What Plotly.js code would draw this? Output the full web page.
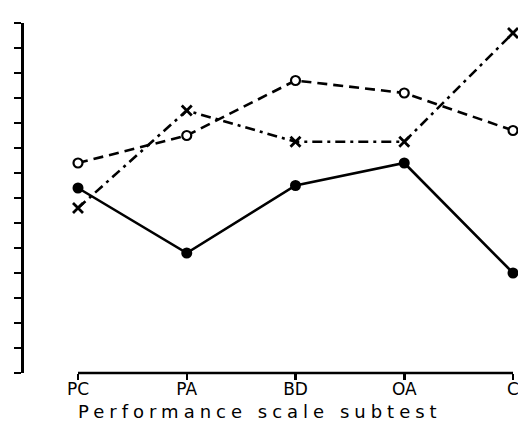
<!DOCTYPE html>
<html>
<head>
<meta charset="utf-8">
<script src="https://cdn.plot.ly/plotly-3.0.1.min.js"></script>
<style>
html,body{margin:0;padding:0;background:#fff;}
#chart{width:518px;height:429px;}
.annotation-text{letter-spacing:5px;}
</style>
</head>
<body>
<div id="chart"></div>
<script>
const categories = ["PC", "PA", "BD", "OA", "C"];
const solidSeries = [7.4, 4.8, 7.5, 8.4, 4.0];
const dashedSeries = [8.4, 9.5, 11.7, 11.2, 9.7];
const dashDotSeries = [6.6, 10.5, 9.25, 9.25, 13.6];
const xTitle = "Performance scale subtest";

const traces = [
  {
    x: categories, y: dashedSeries, type: "scatter", mode: "lines+markers",
    line: {color: "#000", width: 2.6, dash: "10px,6px"},
    marker: {symbol: "circle", size: 9, color: "#fff", line: {color: "#000", width: 2.2}},
    cliponaxis: false, showlegend: false
  },
  {
    x: categories, y: dashDotSeries, type: "scatter", mode: "lines+markers",
    line: {color: "#000", width: 2.6, dash: "10px,5px,3px,5px"},
    marker: {symbol: "x-thin-open", size: 10, color: "#000", line: {color: "#000", width: 2.8}},
    cliponaxis: false, showlegend: false
  },
  {
    x: categories, y: solidSeries, type: "scatter", mode: "lines+markers",
    line: {color: "#000", width: 2.6},
    marker: {symbol: "circle", size: 11, color: "#000"},
    cliponaxis: false, showlegend: false
  }
];

const layout = {
  width: 518, height: 429,
  margin: {l: 24, r: 0, t: 23, b: 56},
  paper_bgcolor: "#fff", plot_bgcolor: "#fff",
  font: {family: "DejaVu Sans", color: "#000"},
  xaxis: {
    type: "category",
    categoryorder: "array", categoryarray: categories,
    range: [-0.4966, 4.046],
    showgrid: false, zeroline: false, showline: false,
    ticks: "outside", ticklen: 6, tickwidth: 2.5, tickcolor: "#000",
    ticklabelstandoff: -5,
    tickfont: {family: "DejaVu Sans", size: 17, color: "#000"},
    fixedrange: true
  },
  yaxis: {
    range: [0, 14], dtick: 1, tick0: 0,
    showgrid: false, zeroline: false,
    showline: true, linewidth: 3, linecolor: "#000",
    ticks: "outside", ticklen: 7, tickwidth: 2.5, tickcolor: "#000",
    showticklabels: false, fixedrange: true
  },
  shapes: [
    {type: "line", xref: "x", yref: "paper", x0: 0, x1: 4, y0: 0, y1: 0,
     line: {color: "#000", width: 2.5}}
  ],
  annotations: [
    {text: xTitle, xref: "x", yref: "paper", x: 0, y: 0,
     xanchor: "left", yanchor: "top", yshift: -26, xshift: -2, showarrow: false,
     font: {family: "DejaVu Sans", size: 18, color: "#000"}}
  ]
};

Plotly.newPlot("chart", traces, layout, {displayModeBar: false, staticPlot: true});
</script>
</body>
</html>
